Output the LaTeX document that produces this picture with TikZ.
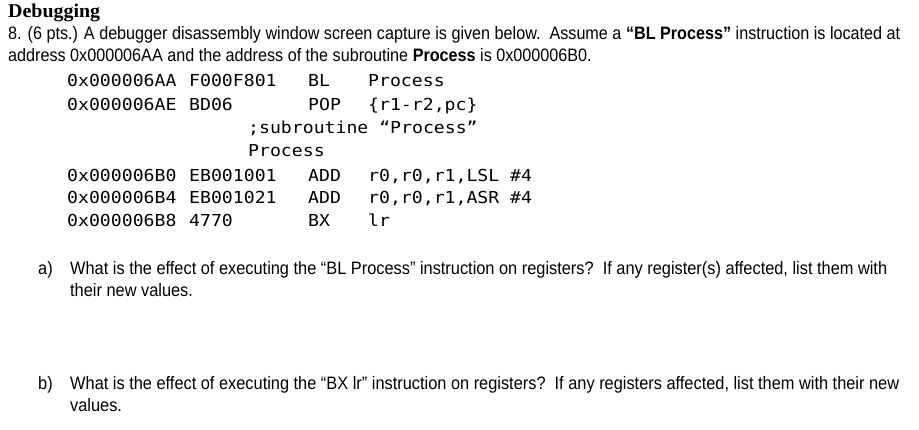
\documentclass[tikz,border=0pt]{standalone}
\usepackage{fontspec}
\usepackage{graphicx}
\setmainfont{Liberation Sans}
\newfontfamily\titlefont{Liberation Serif}
\newfontfamily\codefont[FakeStretch=1.1]{DejaVu Sans Mono}
\newsavebox\fitbox
\newcommand\fitto[2]{\sbox\fitbox{#2}\pgfmathsetmacro\fittmp{#1/\the\wd\fitbox}\xdef\lastscale{\fittmp}\scalebox{\lastscale}[1]{\usebox\fitbox}}
\newcommand\samescale[1]{\scalebox{\lastscale}[1]{#1}}
\tikzset{
  prose/.style={anchor=base west, inner sep=0pt, font=\fontsize{18}{20}\selectfont},
  codetxt/.style={anchor=base west, inner sep=0pt, font=\codefont\fontsize{16.5}{18}\selectfont},
  titletxt/.style={anchor=base west, inner sep=0pt, font=\titlefont\bfseries\fontsize{19.5}{22}\selectfont}
}
\begin{document}
\begin{tikzpicture}[x=1pt,y=-1pt]
\useasboundingbox[fill=white] (0,0) rectangle (919,430);
% heading
\node[titletxt] (title) at (8,18) {\fitto{92}{Debugging}};
\node[prose] (intro1) at (8,39.5) {\fitto{892}{8. (6 pts.) A debugger disassembly window screen capture is given below.\ \ Assume a \textbf{“BL Process”} instruction is located at}};
\node[prose] (intro2) at (8,61.5) {\samescale{address 0x000006AA and the address of the subroutine \textbf{Process} is 0x000006B0.}};
% code listing
\node[codetxt] (a1) at (67,86.5) {0x000006AA};
\node[codetxt] (h1) at (189,86.5) {F000F801};
\node[codetxt] (m1) at (308,86.5) {BL};
\node[codetxt] (o1) at (368,86.5) {Process};
\node[codetxt] (a2) at (67,111) {0x000006AE};
\node[codetxt] (h2) at (189,111) {BD06};
\node[codetxt] (m2) at (308,111) {POP};
\node[codetxt] (o2) at (368,111) {\{r1-r2,pc\}};
\node[codetxt] (cmt) at (248,134) {;subroutine “Process”};
\node[codetxt] (lbl) at (248,157) {Process};
\node[codetxt] (a3) at (67,181.5) {0x000006B0};
\node[codetxt] (h3) at (189,181.5) {EB001001};
\node[codetxt] (m3) at (308,181.5) {ADD};
\node[codetxt] (o3) at (368,181.5) {r0,r0,r1,LSL \#4};
\node[codetxt] (a4) at (67,204) {0x000006B4};
\node[codetxt] (h4) at (189,204) {EB001021};
\node[codetxt] (m4) at (308,204) {ADD};
\node[codetxt] (o4) at (368,204) {r0,r0,r1,ASR \#4};
\node[codetxt] (a5) at (67,227) {0x000006B8};
\node[codetxt] (h5) at (189,227) {4770};
\node[codetxt] (m5) at (308,227) {BX};
\node[codetxt] (o5) at (368,227) {lr};
% question a
\node[prose] (qa1) at (70,274.5) {\fitto{817}{What is the effect of executing the “BL Process” instruction on registers?\ \ If any register(s) affected, list them with}};
\node[prose] (qa) at (38,274.5) {\samescale{a)}};
\node[prose] (qa2) at (70,297) {\samescale{their new values.}};
% question b
\node[prose] (qb1) at (70,389.5) {\fitto{829}{What is the effect of executing the “BX lr” instruction on registers?\ \ If any registers affected, list them with their new}};
\node[prose] (qb) at (38,389.5) {\samescale{b)}};
\node[prose] (qb2) at (70,412) {\samescale{values.}};
\end{tikzpicture}
\end{document}
